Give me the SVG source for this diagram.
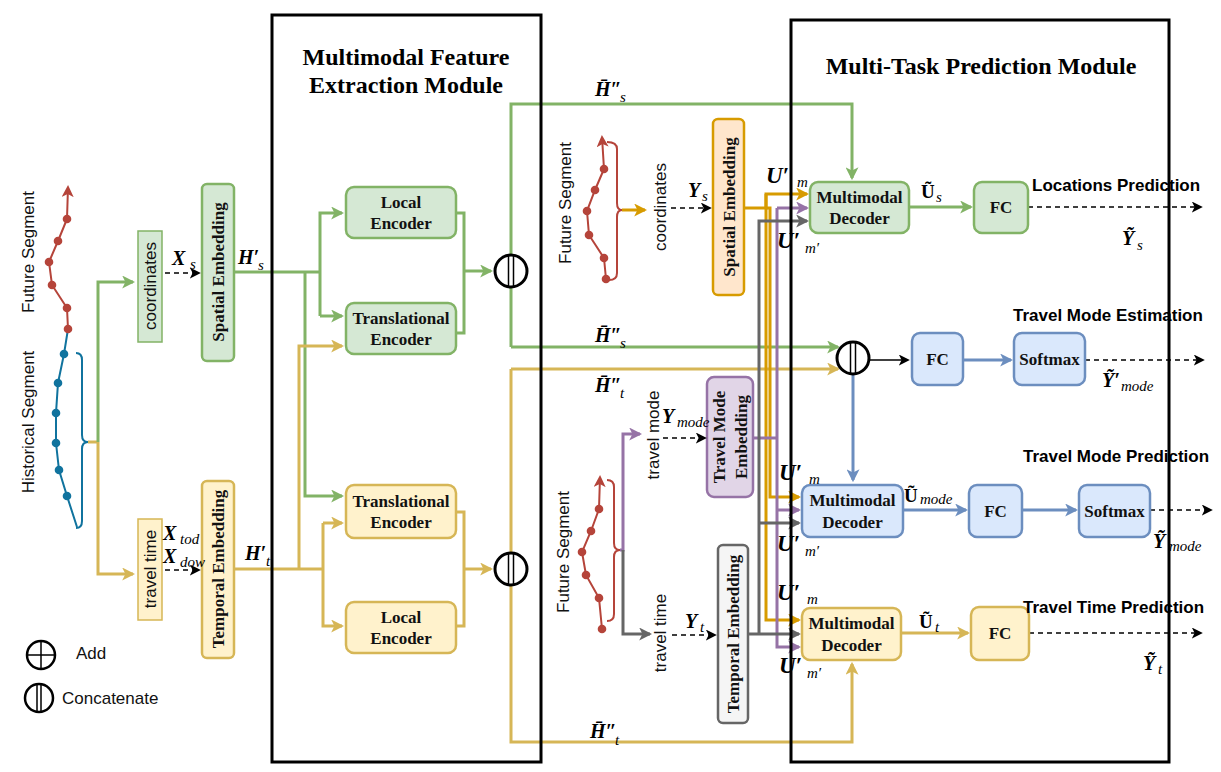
<svg xmlns="http://www.w3.org/2000/svg" width="1221" height="772" viewBox="0 0 1221 772">
<style>
.bg{fill:#d5e8d4;stroke:#82b366;stroke-width:2.5}
.by{fill:#fff2cc;stroke:#d6b656;stroke-width:2.5}
.bb{fill:#dae8fc;stroke:#6c8ebf;stroke-width:2.5}
.bp{fill:#e1d5e7;stroke:#9673a6;stroke-width:2.5}
.bgr{fill:#f5f5f5;stroke:#666666;stroke-width:2.5}
.bo{fill:#ffe6cc;stroke:#d79b00;stroke-width:2.5}
.lbl{font-family:"Liberation Serif","Times New Roman",serif;font-weight:bold;font-size:17px;fill:#111}
.sans{font-family:"Liberation Sans",Arial,sans-serif;font-size:17px;fill:#111}
.title{font-family:"Liberation Serif","Times New Roman",serif;font-weight:bold;font-size:24px;fill:#000}
.task{font-family:"Liberation Sans",Arial,sans-serif;font-weight:bold;font-size:17px;fill:#000}
.m{font-family:"Liberation Serif","Times New Roman",serif;font-weight:bold;font-style:italic;font-size:20px;fill:#000}
.mu{font-family:"Liberation Serif","Times New Roman",serif;font-weight:bold;font-size:19px;fill:#000}
.mb{font-family:"Liberation Serif","Times New Roman",serif;font-weight:bold;font-style:italic;font-size:23px;fill:#000}
.s{font-family:"Liberation Serif","Times New Roman",serif;font-style:italic;font-size:15px;fill:#000}
.cg{stroke:#82b366;stroke-width:3;fill:none}
.cy{stroke:#d6b656;stroke-width:3;fill:none}
.co{stroke:#d79b00;stroke-width:3;fill:none}
.cp{stroke:#9673a6;stroke-width:3;fill:none}
.cgr{stroke:#666666;stroke-width:3;fill:none}
.cb{stroke:#6c8ebf;stroke-width:3;fill:none}
.dash{stroke:#000;stroke-width:1.5;stroke-dasharray:5 4;fill:none}
.cat{fill:#fff;stroke:#000;stroke-width:3}
.module{fill:none;stroke:#000;stroke-width:3}
.tr{stroke:#b5443a;stroke-width:2;fill:none}
.tb{stroke:#10739e;stroke-width:2;fill:none}
.dr{fill:#b5443a}
.db{fill:#10739e}
</style>
<defs>
<marker id="ag" viewBox="0 0 12 12" refX="10" refY="6" markerWidth="13" markerHeight="13" markerUnits="userSpaceOnUse" orient="auto"><path d="M0,0 L12,6 L0,12 L3,6 z" fill="#82b366"/></marker>
<marker id="ay" viewBox="0 0 12 12" refX="10" refY="6" markerWidth="13" markerHeight="13" markerUnits="userSpaceOnUse" orient="auto"><path d="M0,0 L12,6 L0,12 L3,6 z" fill="#d6b656"/></marker>
<marker id="ao" viewBox="0 0 12 12" refX="10" refY="6" markerWidth="13" markerHeight="13" markerUnits="userSpaceOnUse" orient="auto"><path d="M0,0 L12,6 L0,12 L3,6 z" fill="#d79b00"/></marker>
<marker id="ap" viewBox="0 0 12 12" refX="10" refY="6" markerWidth="13" markerHeight="13" markerUnits="userSpaceOnUse" orient="auto"><path d="M0,0 L12,6 L0,12 L3,6 z" fill="#9673a6"/></marker>
<marker id="agr" viewBox="0 0 12 12" refX="10" refY="6" markerWidth="13" markerHeight="13" markerUnits="userSpaceOnUse" orient="auto"><path d="M0,0 L12,6 L0,12 L3,6 z" fill="#666666"/></marker>
<marker id="ab" viewBox="0 0 12 12" refX="10" refY="6" markerWidth="13" markerHeight="13" markerUnits="userSpaceOnUse" orient="auto"><path d="M0,0 L12,6 L0,12 L3,6 z" fill="#6c8ebf"/></marker>
<marker id="ar" viewBox="0 0 12 12" refX="10" refY="6" markerWidth="12" markerHeight="12" markerUnits="userSpaceOnUse" orient="auto"><path d="M0,0 L12,6 L0,12 L3,6 z" fill="#b5443a"/></marker>
<marker id="ak" viewBox="0 0 12 12" refX="10" refY="6" markerWidth="11" markerHeight="11" markerUnits="userSpaceOnUse" orient="auto"><path d="M0,0 L12,6 L0,12 L3,6 z" fill="#000"/></marker>
</defs>
<rect width="1221" height="772" fill="#fff"/>

<!-- left trajectory -->
<g id="trajectory-left">
<text class="sans" transform="translate(28,252) rotate(-90)" text-anchor="middle" y="6">Future Segment</text>
<text class="sans" transform="translate(28,422) rotate(-90)" text-anchor="middle" y="6">Historical Segment</text>
<polyline class="tr" points="68,329 67,308 52,285 49,262 58,241 67,219 68,187" marker-end="url(#ar)"/>
<polyline class="tb" points="68,329 64,354 58,383 56,413 56,443 59,470 67,496 77,527"/>
<path class="tb" stroke-width="3" d="M76,353 Q82,353 82,360 L82,435 Q82,442 88,442 Q82,442 82,449 L82,521 Q82,528 76,528"/>
<g class="dr"><circle cx="67" cy="219" r="4.3"/><circle cx="58" cy="241" r="4.3"/><circle cx="49" cy="262" r="4.3"/><circle cx="52" cy="285" r="4.3"/><circle cx="67" cy="308" r="4.3"/><circle cx="68" cy="329" r="4.3"/></g>
<g class="db"><circle cx="64" cy="354" r="4.3"/><circle cx="58" cy="383" r="4.3"/><circle cx="56" cy="413" r="4.3"/><circle cx="56" cy="443" r="4.3"/><circle cx="59" cy="470" r="4.3"/><circle cx="67" cy="496" r="4.3"/></g>
</g>

<g id="coordinates-in">
<rect x="138" y="231" width="24" height="111" fill="#d5e8d4" stroke="#82b366" stroke-width="1.5"/>
<text class="sans" transform="translate(150,286) rotate(-90)" text-anchor="middle" y="6">coordinates</text>
</g>
<g id="traveltime-in">
<rect x="138" y="519" width="24" height="101" fill="#fff2cc" stroke="#d6b656" stroke-width="1.5"/>
<text class="sans" transform="translate(150,569) rotate(-90)" text-anchor="middle" y="6">travel time</text>
</g>
<g id="spatial-embedding-1">
<rect class="bg" x="202" y="184" width="32" height="177" rx="5"/>
<text class="lbl" transform="translate(218,272) rotate(-90)" text-anchor="middle" y="6">Spatial Embedding</text>
</g>
<g id="temporal-embedding-1">
<rect class="by" x="202" y="481" width="32" height="177" rx="5"/>
<text class="lbl" transform="translate(218,569) rotate(-90)" text-anchor="middle" y="6">Temporal Embedding</text>
</g>

<!-- feature extraction nodes -->
<g id="local-encoder-s">
<rect class="bg" x="346" y="187" width="110" height="51" rx="8"/>
<text class="lbl" x="401" y="208" text-anchor="middle">Local</text>
<text class="lbl" x="401" y="229" text-anchor="middle">Encoder</text>
</g>
<g id="translational-encoder-s">
<rect class="bg" x="346" y="303" width="110" height="51" rx="8"/>
<text class="lbl" x="401" y="324" text-anchor="middle">Translational</text>
<text class="lbl" x="401" y="345" text-anchor="middle">Encoder</text>
</g>
<g id="translational-encoder-t">
<rect class="by" x="346" y="485" width="110" height="53" rx="8"/>
<text class="lbl" x="401" y="507" text-anchor="middle">Translational</text>
<text class="lbl" x="401" y="528" text-anchor="middle">Encoder</text>
</g>
<g id="local-encoder-t">
<rect class="by" x="346" y="602" width="110" height="51" rx="8"/>
<text class="lbl" x="401" y="623" text-anchor="middle">Local</text>
<text class="lbl" x="401" y="644" text-anchor="middle">Encoder</text>
</g>

<!-- middle inputs -->
<g id="trajectory-future-s">
<text class="sans" transform="translate(565,203) rotate(-90)" text-anchor="middle" y="6">Future Segment</text>
<polyline class="tr" points="606,279 604,258 589,235 587,211 595,190 604,169 602,137" marker-end="url(#ar)"/>
<path class="tr" stroke-width="3" d="M607,142 Q617,142 617,149 L617,203 Q617,210 622,210 Q617,210 617,217 L617,273 Q617,280 609,280"/>
<g class="dr"><circle cx="604" cy="169" r="4.3"/><circle cx="595" cy="190" r="4.3"/><circle cx="587" cy="211" r="4.3"/><circle cx="589" cy="235" r="4.3"/><circle cx="604" cy="258" r="4.3"/><circle cx="606" cy="279" r="4.3"/></g>
<text class="sans" transform="translate(660,207) rotate(-90)" text-anchor="middle" y="6">coordinates</text>
</g>
<g id="spatial-embedding-2">
<rect class="bo" x="713" y="119" width="31" height="176" rx="5"/>
<text class="lbl" transform="translate(728.5,207) rotate(-90)" text-anchor="middle" y="6">Spatial Embedding</text>
</g>
<g id="trajectory-future-mt">
<text class="sans" transform="translate(563,552) rotate(-90)" text-anchor="middle" y="6">Future Segment</text>
<polyline class="tr" points="602,629 599,598 586,575 582,552 591,531 599,509 600,477" marker-end="url(#ar)"/>
<path class="tr" stroke-width="3" d="M607,480 Q614,480 614,487 L614,543 Q614,550 620,550 Q614,550 614,557 L614,614 Q614,621 607,621"/>
<g class="dr"><circle cx="599" cy="509" r="4.3"/><circle cx="591" cy="531" r="4.3"/><circle cx="582" cy="552" r="4.3"/><circle cx="586" cy="575" r="4.3"/><circle cx="599" cy="598" r="4.3"/><circle cx="602" cy="629" r="4.3"/></g>
<text class="sans" transform="translate(653,435) rotate(-90)" text-anchor="middle" y="6">travel mode</text>
<text class="sans" transform="translate(660,633) rotate(-90)" text-anchor="middle" y="6">travel time</text>
</g>
<g id="travel-mode-embedding">
<rect class="bp" x="707" y="377" width="46" height="120" rx="7"/>
<text class="lbl" transform="translate(730,437) rotate(-90)" text-anchor="middle" y="-5">Travel Mode</text>
<text class="lbl" transform="translate(730,437) rotate(-90)" text-anchor="middle" y="17">Embedding</text>
</g>
<g id="temporal-embedding-2">
<rect class="bgr" x="718" y="545" width="30" height="178" rx="5"/>
<text class="lbl" transform="translate(733,634) rotate(-90)" text-anchor="middle" y="6">Temporal Embedding</text>
</g>

<!-- connectors -->
<g id="connectors">
<path class="cy" d="M88,442 H98"/>
<path class="cg" d="M98,442 V282 H133" marker-end="url(#ag)"/>
<path class="cy" d="M98,442 V574 H133" marker-end="url(#ay)"/>
<path class="dash" d="M165,273 H199" marker-end="url(#ak)"/>
<path class="dash" d="M165,570 H199" marker-end="url(#ak)"/>
<path class="cg" d="M234,272 H320"/>
<path class="cg" d="M320,316 V213 H342" marker-end="url(#ag)"/>
<path class="cg" d="M320,316 H342" marker-end="url(#ag)"/>
<path class="cg" d="M305,272 V496 H342" marker-end="url(#ag)"/>
<path class="cy" d="M234,569 H323"/>
<path class="cy" d="M323,523 V626 H342" marker-end="url(#ay)"/>
<path class="cy" d="M323,523 H342" marker-end="url(#ay)"/>
<path class="cy" d="M299,569 V346 H342" marker-end="url(#ay)"/>
<path class="cg" d="M456,213 H464 V333 H456"/>
<path class="cg" d="M464,271 H491" marker-end="url(#ag)"/>
<path class="cy" d="M456,512 H464 V626 H456"/>
<path class="cy" d="M464,569 H491" marker-end="url(#ay)"/>
<path class="cg" d="M511,347 V104 H852 V178" marker-end="url(#ag)"/>
<path class="cg" d="M511,347 H838" marker-end="url(#ag)"/>
<path class="cy" d="M511,369 V742 H852 V664" marker-end="url(#ay)"/>
<path class="cy" d="M511,369 H838" marker-end="url(#ay)"/>
<path class="co" d="M622,210 H645" marker-end="url(#ao)"/>
<path class="dash" d="M671,208 H710" marker-end="url(#ak)"/>
<path class="cp" d="M620,550 H623 V434 H640" marker-end="url(#ap)"/>
<path class="cgr" d="M623,550 V634 H650" marker-end="url(#agr)"/>
<path class="dash" d="M663,438 H705" marker-end="url(#ak)"/>
<path class="dash" d="M672,635 H715" marker-end="url(#ak)"/>
<path class="co" d="M744,208 H766 V194 H807" marker-end="url(#ao)"/>
<path class="co" d="M766,194 V620 H799" marker-end="url(#ao)"/>
<path class="co" d="M766,208 H770 V497 H799" marker-end="url(#ao)"/>
<path class="cp" d="M753,438 H777"/>
<path class="cp" d="M777,208 V647 H799" marker-end="url(#ap)"/>
<path class="cp" d="M777,208 H807" marker-end="url(#ap)"/>
<path class="cp" d="M777,510 H799" marker-end="url(#ap)"/>
<path class="cgr" d="M748,634 H799" marker-end="url(#agr)"/>
<path class="cgr" d="M759,634 V221 H807" marker-end="url(#agr)"/>
<path class="cgr" d="M759,523 H799" marker-end="url(#agr)"/>
<path class="cg" d="M909,207 H971" marker-end="url(#ag)"/>
<path class="dash" d="M1028,207 H1201" marker-end="url(#ak)"/>
<path d="M869,360 H908" stroke="#000" stroke-width="1.5" fill="none" marker-end="url(#ak)"/>
<path class="cb" d="M963,360 H1011" marker-end="url(#ab)"/>
<path class="dash" d="M1085,360 H1203" marker-end="url(#ak)"/>
<path class="cb" d="M853,374 V480" marker-end="url(#ab)"/>
<path class="cb" d="M903,510 H966" marker-end="url(#ab)"/>
<path class="cb" stroke-width="1.8" d="M1022,510 H1076" marker-end="url(#ab)"/>
<path class="dash" d="M1150,510 H1211" marker-end="url(#ak)"/>
<path class="cy" d="M901,633 H968" marker-end="url(#ay)"/>
<path class="dash" d="M1029,633 H1201" marker-end="url(#ak)"/>
</g>

<!-- concat nodes -->
<g id="concat-s">
<circle class="cat" cx="511" cy="271" r="16"/>
<path d="M508.5,255 V287 M513.5,255 V287" stroke="#000" stroke-width="1.5"/>
</g>
<g id="concat-t">
<circle class="cat" cx="511" cy="569" r="16"/>
<path d="M508.5,553 V585 M513.5,553 V585" stroke="#000" stroke-width="1.5"/>
</g>
<g id="concat-mode">
<circle class="cat" cx="853" cy="358" r="16"/>
<path d="M850.5,342 V374 M855.5,342 V374" stroke="#000" stroke-width="1.5"/>
</g>

<!-- prediction nodes -->
<g id="decoder-s">
<rect class="bg" x="810" y="182" width="99" height="51" rx="8"/>
<text class="lbl" x="859.5" y="203" text-anchor="middle">Multimodal</text>
<text class="lbl" x="859.5" y="224" text-anchor="middle">Decoder</text>
</g>
<g id="fc-s">
<rect class="bg" x="974" y="182" width="54" height="51" rx="8"/>
<text class="lbl" x="1001" y="213" text-anchor="middle">FC</text>
</g>
<g id="fc-est">
<rect class="bb" x="912" y="333" width="51" height="52" rx="8"/>
<text class="lbl" x="937.5" y="365" text-anchor="middle">FC</text>
</g>
<g id="softmax-est">
<rect class="bb" x="1014" y="333" width="71" height="52" rx="8"/>
<text class="lbl" x="1049.5" y="365" text-anchor="middle">Softmax</text>
</g>
<g id="decoder-mode">
<rect class="bb" x="802" y="485" width="101" height="52" rx="8"/>
<text class="lbl" x="852.5" y="506" text-anchor="middle">Multimodal</text>
<text class="lbl" x="852.5" y="528" text-anchor="middle">Decoder</text>
</g>
<g id="fc-mode">
<rect class="bb" x="969" y="485" width="53" height="52" rx="8"/>
<text class="lbl" x="995.5" y="517" text-anchor="middle">FC</text>
</g>
<g id="softmax-mode">
<rect class="bb" x="1079" y="485" width="71" height="52" rx="8"/>
<text class="lbl" x="1114.5" y="517" text-anchor="middle">Softmax</text>
</g>
<g id="decoder-t">
<rect class="by" x="802" y="608" width="99" height="52" rx="8"/>
<text class="lbl" x="851.5" y="629" text-anchor="middle">Multimodal</text>
<text class="lbl" x="851.5" y="651" text-anchor="middle">Decoder</text>
</g>
<g id="fc-t">
<rect class="by" x="971" y="607" width="58" height="53" rx="8"/>
<text class="lbl" x="1000" y="639" text-anchor="middle">FC</text>
</g>

<!-- task labels -->
<g id="task-labels">
<text class="task" x="1032" y="191">Locations Prediction</text>
<text class="task" x="1013" y="321">Travel Mode Estimation</text>
<text class="task" x="1023" y="462">Travel Mode Prediction</text>
<text class="task" x="1023" y="613">Travel Time Prediction</text>
</g>

<!-- math labels -->
<g id="math-labels">
<text class="m" x="172" y="265">X</text><text class="s" x="190" y="269">s</text>
<text class="m" x="238" y="264">H′</text><text class="s" x="258" y="270">s</text>
<text class="m" x="163" y="540">X</text><text class="s" x="180" y="544">tod</text>
<text class="m" x="163" y="563">X</text><text class="s" x="180" y="567">dow</text>
<text class="m" x="245" y="560">H′</text><text class="s" x="266" y="566">t</text>
<text class="m" x="595" y="96">H&#x304;″</text><text class="s" x="620" y="102">s</text>
<text class="m" x="595" y="342">H&#x304;″</text><text class="s" x="620" y="348">s</text>
<text class="m" x="595" y="392">H&#x304;″</text><text class="s" x="620" y="398">t</text>
<text class="m" x="590" y="738">H&#x304;″</text><text class="s" x="615" y="745">t</text>
<text class="m" x="688" y="197">Y</text><text class="s" x="702" y="201">s</text>
<text class="m" x="662" y="423">Y</text><text class="s" x="677" y="427">mode</text>
<text class="m" x="685" y="628">Y</text><text class="s" x="700" y="632">t</text>
<text class="mb" x="766" y="183">U′</text><text class="s" x="797" y="187">m</text>
<text class="mb" x="777" y="248">U′</text><text class="s" x="805" y="253">m′</text>
<text class="mb" x="779" y="480">U′</text><text class="s" x="809" y="484">m</text>
<text class="mb" x="777" y="551">U′</text><text class="s" x="805" y="556">m′</text>
<text class="mb" x="777" y="600">U′</text><text class="s" x="807" y="604">m</text>
<text class="mb" x="779" y="673">U′</text><text class="s" x="807" y="678">m′</text>
<text class="mu" x="921" y="198">Ũ</text><text class="s" x="936" y="202">s</text>
<text class="m" x="1122" y="245">Ỹ</text><text class="s" x="1137" y="250">s</text>
<text class="m" x="1102" y="387">Ỹ′</text><text class="s" x="1121" y="391" font-size="17">mode</text>
<text class="mu" x="904" y="502">Ũ</text><text class="s" x="920" y="504" font-size="16">mode</text>
<text class="m" x="1153" y="548">Ỹ</text><text class="s" x="1169" y="551">mode</text>
<text class="mu" x="919" y="628">Ũ</text><text class="s" x="935" y="632">t</text>
<text class="m" x="1143" y="670">Ỹ</text><text class="s" x="1158" y="674">t</text>
</g>

<!-- legend -->
<g id="legend-add">
<circle cx="41" cy="655" r="14" fill="#fff" stroke="#000" stroke-width="2.5"/>
<path d="M27,655 H55 M41,641 V669" stroke="#000" stroke-width="1.5"/>
<text class="sans" x="76" y="659">Add</text>
</g>
<g id="legend-concat">
<circle cx="39" cy="698" r="14" fill="#fff" stroke="#000" stroke-width="2.5"/>
<path d="M37,684 V712 M41,684 V712" stroke="#000" stroke-width="1.5"/>
<text class="sans" x="62" y="704">Concatenate</text>
</g>

<!-- modules -->
<g id="module-feature-extraction">
<rect class="module" x="272" y="15" width="269" height="747"/>
<text class="title" x="406" y="65" text-anchor="middle">Multimodal Feature</text>
<text class="title" x="406" y="93" text-anchor="middle">Extraction Module</text>
</g>
<g id="module-multitask">
<rect class="module" x="791" y="20" width="378" height="742"/>
<text class="title" x="981" y="74" text-anchor="middle">Multi-Task Prediction Module</text>
</g>
</svg>
